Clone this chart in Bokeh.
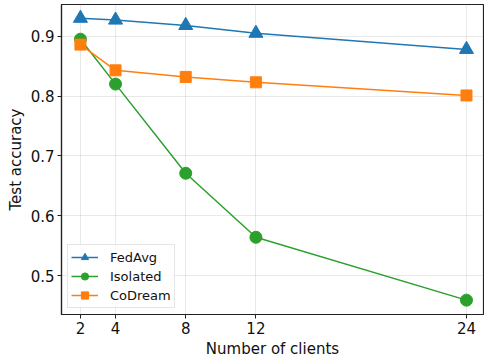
from bokeh.plotting import figure
from bokeh.models import FixedTicker, Legend, LegendItem
from bokeh.embed import file_html
from bokeh.resources import INLINE

# Number of clients on the x axis
clients = [2, 4, 8, 12, 24]

# Test accuracy per method
fedavg = [0.930, 0.927, 0.918, 0.905, 0.878]
isolated = [0.895, 0.820, 0.671, 0.564, 0.459]
codream = [0.886, 0.843, 0.832, 0.823, 0.801]

y_ticks = [0.5, 0.6, 0.7, 0.8, 0.9]

FONT = "DejaVu Sans"

p = figure(
    width=484, height=360,
    x_range=(0.92, 24.97), y_range=(0.435, 0.953),
    output_backend="svg", toolbar_location=None,
    min_border_left=61, min_border_right=1, min_border_top=4, min_border_bottom=46,
)
p.background_fill_color = "white"
p.border_fill_color = "white"
p.outline_line_color = "#222222"
p.outline_line_width = 1.2

p.xaxis.ticker = FixedTicker(ticks=clients)
p.yaxis.ticker = FixedTicker(ticks=y_ticks)
p.xaxis.axis_label = "Number of clients"
p.yaxis.axis_label = "Test accuracy"

for ax in (p.xaxis, p.yaxis):
    ax.axis_label_text_font = FONT
    ax.axis_label_text_font_size = "15px"
    ax.axis_label_text_font_style = "normal"
    ax.axis_label_text_color = "#111111"
    ax.major_label_text_font = FONT
    ax.major_label_text_font_size = "15px"
    ax.major_label_text_color = "#111111"
    ax.axis_line_color = "#222222"
    ax.axis_line_width = 1.2
    ax.major_tick_line_color = "#222222"
    ax.major_tick_in = 0
    ax.major_tick_out = 4
    ax.minor_tick_line_color = None
    ax.major_label_standoff = 3
    ax.axis_label_standoff = 3

p.grid.grid_line_color = "#b0b0b0"
p.grid.grid_line_alpha = 0.35
p.grid.grid_line_width = 0.8

series = [
    ("FedAvg", fedavg, "#1f77b4", "triangle", 14),
    ("Isolated", isolated, "#2ca02c", "circle", 12),
    ("CoDream", codream, "#ff7f0e", "square", 11),
]

items = []
for name, vals, color, marker, size in series:
    ln = p.line(clients, vals, line_color=color, line_width=1.5)
    sc = p.scatter(clients, vals, marker=marker, size=size,
                   fill_color=color, line_color=color)
    items.append(LegendItem(label=name, renderers=[ln, sc]))

legend = Legend(items=items, location="bottom_left")
legend.label_text_font = FONT
legend.label_text_font_size = "13px"
legend.label_text_color = "#111111"
legend.border_line_color = "#cccccc"
legend.border_line_width = 1
legend.background_fill_alpha = 0.8
legend.glyph_width = 27
legend.glyph_height = 18
legend.spacing = 1
legend.padding = 3
legend.margin = 6
legend.label_standoff = 12
p.add_layout(legend, "center")

open("out.html", "w").write(file_html(p, INLINE))
